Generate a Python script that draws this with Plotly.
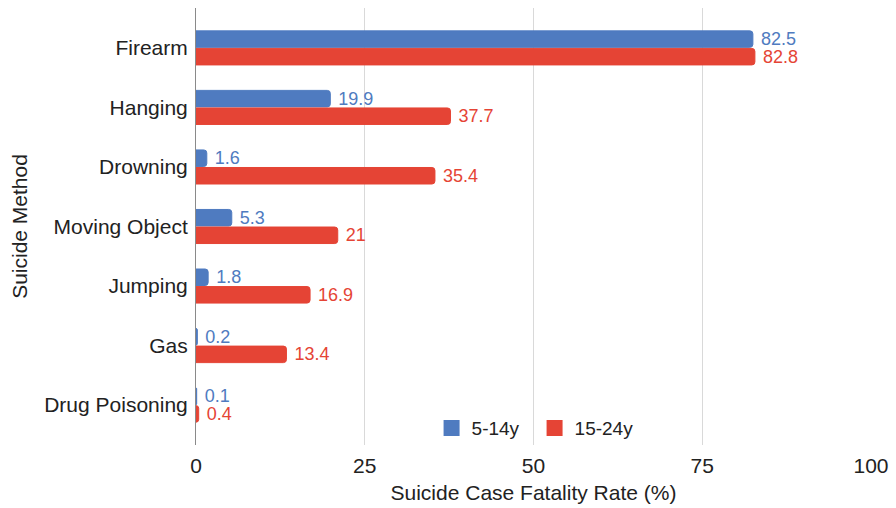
import plotly.graph_objects as go

# Suicide methods, top to bottom
methods = ["Firearm", "Hanging", "Drowning", "Moving Object", "Jumping", "Gas", "Drug Poisoning"]
# Case fatality rate (%) by age group
series_names = ["5-14y", "15-24y"]
rate_5_14 = [82.5, 19.9, 1.6, 5.3, 1.8, 0.2, 0.1]
rate_15_24 = [82.8, 37.7, 35.4, 21, 16.9, 13.4, 0.4]
x_ticks = [0, 25, 50, 75, 100]

BLUE = "#4f7bc0"
RED = "#e54435"
FONT = "Liberation Sans, Arial, Helvetica, sans-serif"
NBSP = "\u00a0"


def fmt(v):
    return NBSP + f"{v:g}"


fig = go.Figure()
for name, vals, col in [(series_names[0], rate_5_14, BLUE), (series_names[1], rate_15_24, RED)]:
    fig.add_trace(go.Bar(
        name=name, y=methods, x=vals, orientation="h",
        marker=dict(color=col, line=dict(color=col, width=1)),
        text=[fmt(v) for v in vals], textposition="outside",
        constraintext="none",
        textfont=dict(color=col, size=18, family=FONT), cliponaxis=False,
        showlegend=False,
    ))

# Legend entries with larger square swatches
for name, col in [(series_names[0], BLUE), (series_names[1], RED)]:
    fig.add_trace(go.Scatter(
        name=name, x=[None], y=[None], mode="markers",
        marker=dict(symbol="square", size=16, color=col),
        showlegend=True,
    ))

fig.update_layout(
    width=896, height=508,
    margin=dict(l=196, r=25, t=8, b=63),
    paper_bgcolor="white", plot_bgcolor="white",
    barmode="group", bargap=0.41, bargroupgap=0.06, barcornerradius=3,
    font=dict(family=FONT, size=21, color="#222222"),
    legend=dict(
        orientation="h", x=0.349, y=-0.005, xanchor="left", yanchor="bottom",
        font=dict(size=19, color="#222222"), bgcolor="rgba(0,0,0,0)",
        itemwidth=30, itemsizing="trace", traceorder="normal",
        entrywidth=58, entrywidthmode="pixels",
    ),
    showlegend=True,
)
fig.update_xaxes(
    range=[0, 100], tickvals=x_ticks, ticktext=[str(t) for t in x_ticks],
    showgrid=True, gridcolor="#d9d9d9", gridwidth=1, zeroline=False,
    ticks="outside", ticklen=2, tickcolor="rgba(0,0,0,0)",
    tickfont=dict(size=21),
    title=dict(text="Suicide Case Fatality Rate (%)", font=dict(size=21), standoff=9),
)
fig.update_yaxes(
    categoryorder="array", categoryarray=methods,
    range=[6.67, -0.67], showgrid=False,
    showline=True, linecolor="#8a8a8a", linewidth=1,
    ticks="outside", ticklen=3, tickcolor="rgba(0,0,0,0)",
    tickfont=dict(size=21),
    title=dict(text="Suicide Method", font=dict(size=21), standoff=10),
)

fig.write_html("out.html")
